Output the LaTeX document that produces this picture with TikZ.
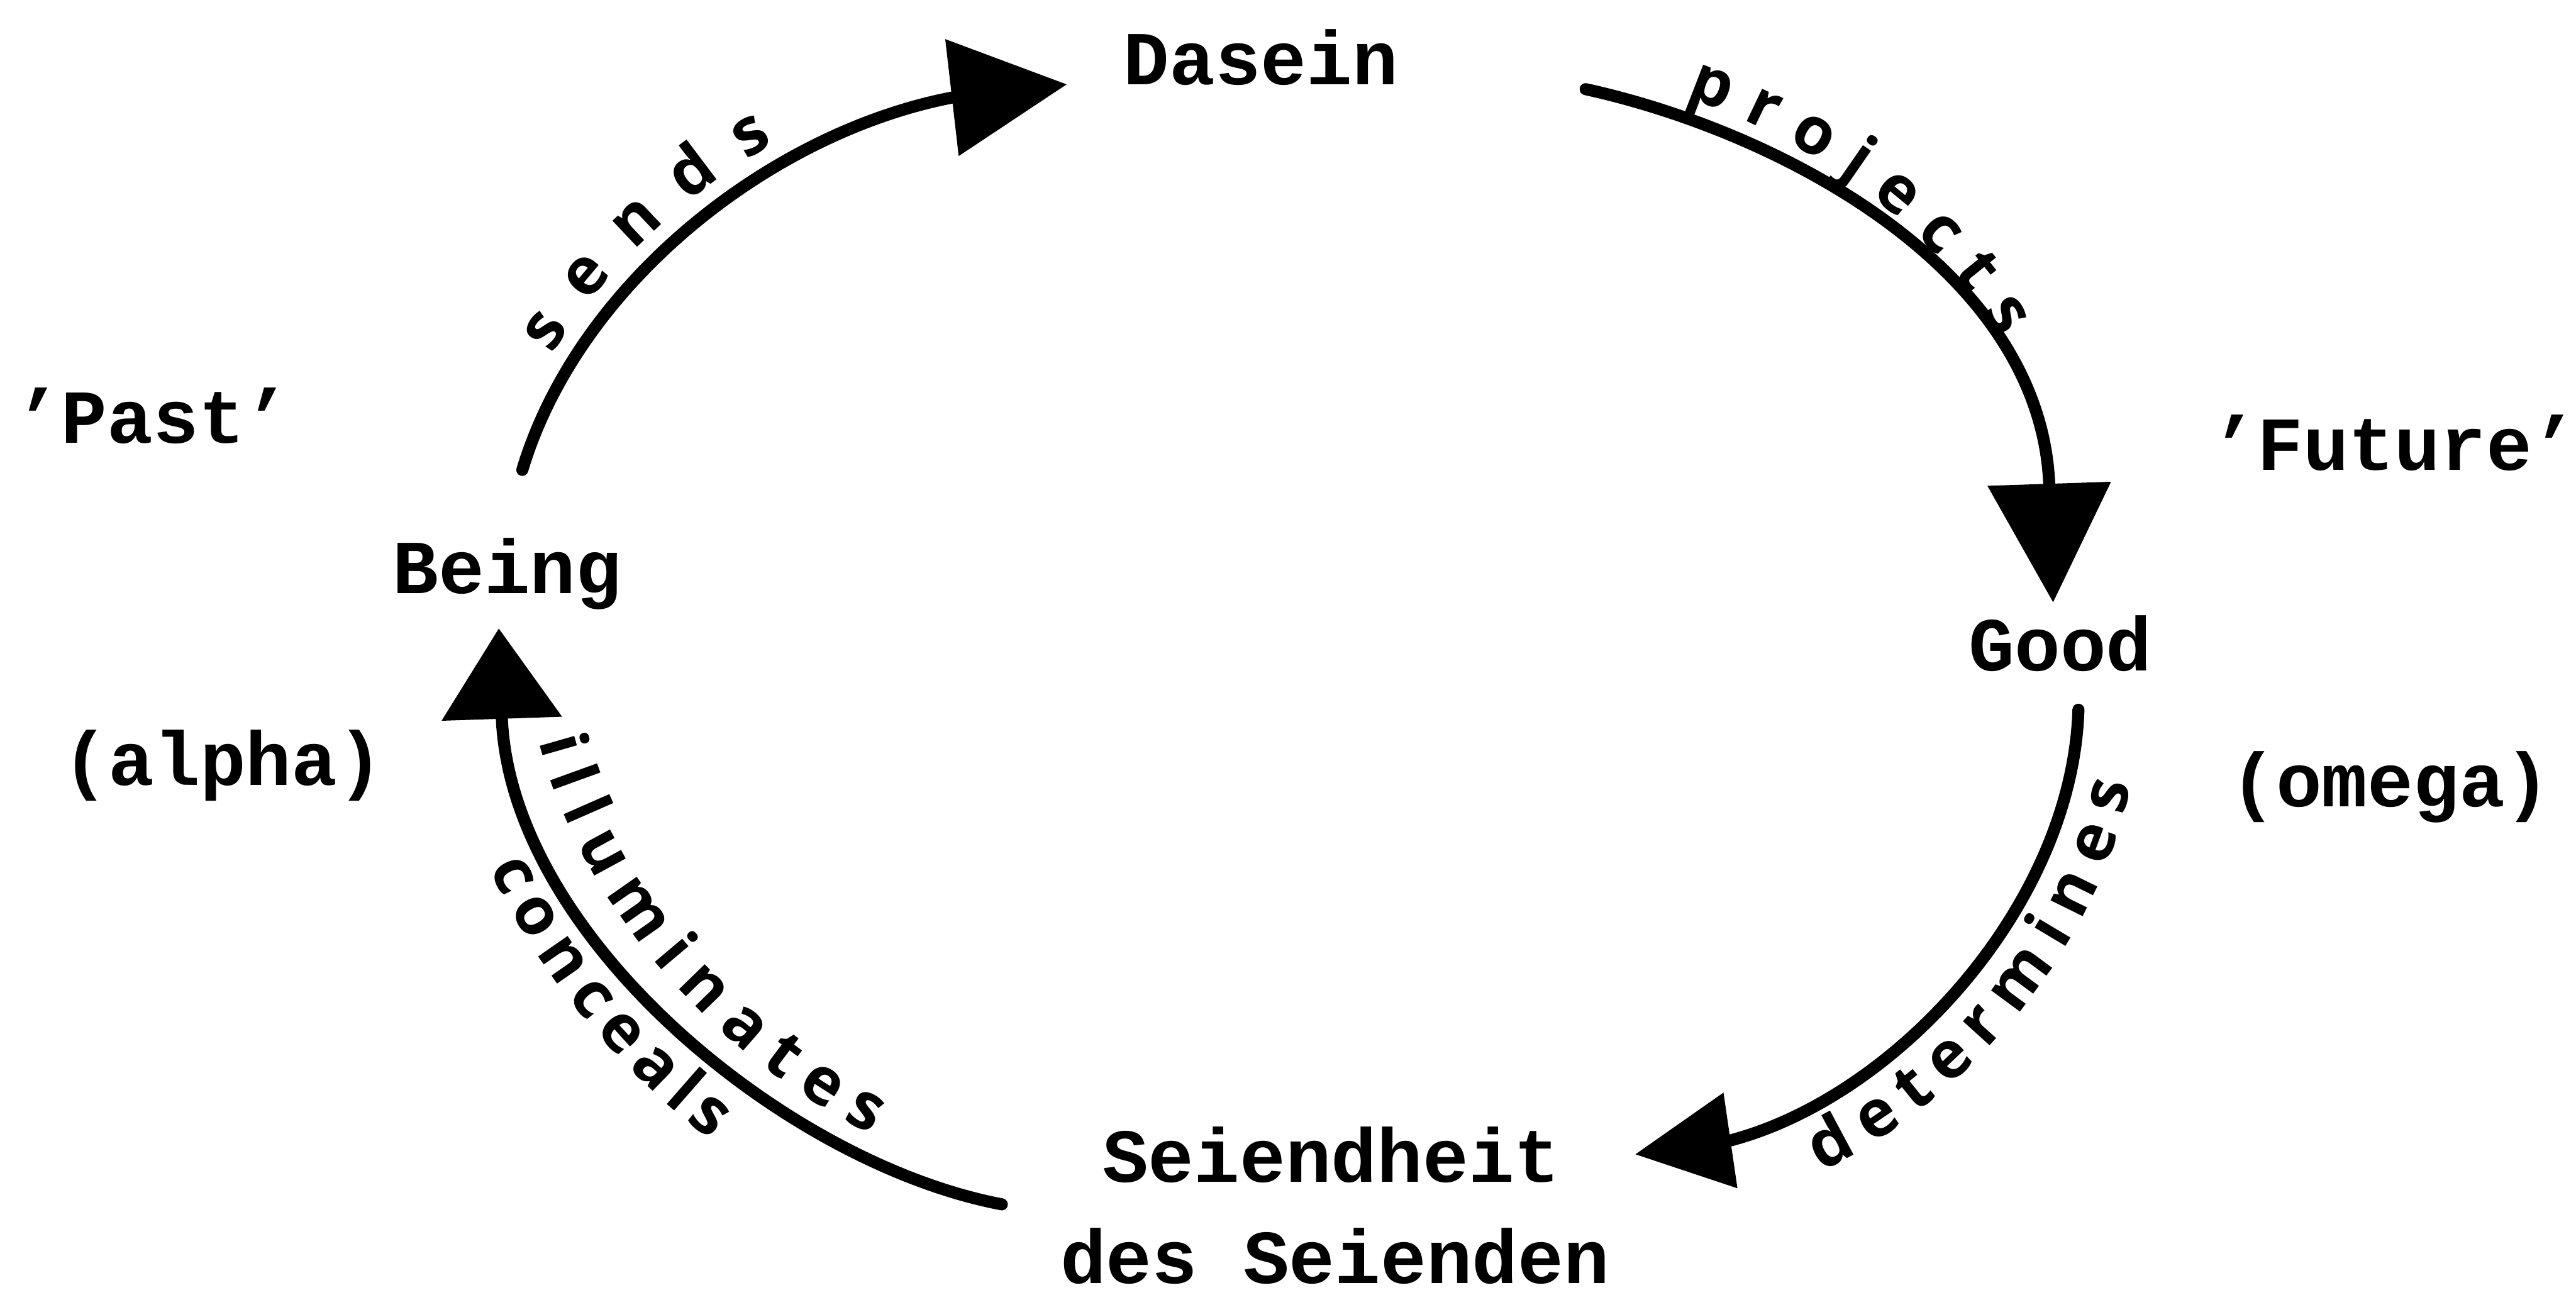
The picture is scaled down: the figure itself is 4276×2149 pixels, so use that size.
\documentclass[tikz,border=0pt]{standalone}
\usepackage{fontspec}
\usetikzlibrary{arrows.meta,decorations.text}
\newfontfamily\typefont{Liberation Mono}
\newfontfamily\handfont{Open Sans}
\begin{document}
\begin{tikzpicture}[x=0.01cm, y=0.01cm,
  term/.style={font=\typefont\bfseries\fontsize{36}{40}\selectfont, inner sep=0pt, anchor=base},
  link/.style={line width=0.2cm, line cap=round},
  handlabel/.style n args={4}{decorate, decoration={text along path,
      text={|\handfont\bfseries\fontsize{31}{31}\selectfont|#1},
      text align={left indent=#2, right indent=#3, fit to path},
      raise=#4}}]
  % page
  \fill[white] (0,0) rectangle (4276,-2149);
  \useasboundingbox (0,0) rectangle (4276,-2149);

  % terms of the cycle
  \node[term] (dasein) at (2093,-140) {Dasein};
  \node[term] (being)  at (842,-985)  {Being};
  \node[term] (good)   at (3420,-1113) {Good};
  \node[term] (seiendA) at (2210,-1962) {Seiendheit};
  \node[term] (seiendB) at (2216,-2130) {des Seienden};

  % side notes
  \node[term] (past)   at (254,-735)   {’Past’};
  \node[term] (alpha)  at (370,-1303)  {(alpha)};
  \node[term] (future) at (3975,-780)  {’Future’};
  \node[term] (omega)  at (3968,-1339) {(omega)};

  % ends of the arcs (where each tip sits, and where its base meets the curve)
  \coordinate (beingOut)  at (867,-780);
  \coordinate (daseinBase) at (1580,-162);
  \coordinate (daseinIn)  at (1771,-140);
  \coordinate (daseinOut) at (2632,-148);
  \coordinate (goodIn)    at (3408,-1000);
  \coordinate (goodOut)   at (3450,-1178);
  \coordinate (seiendBase) at (2872,-1893);
  \coordinate (seiendIn)  at (2714,-1916);
  \coordinate (seiendOut) at (1663,-1999);
  \coordinate (beingIn)   at (828,-1043);

  % the four arcs
  \draw[link, -{Triangle[width=1.9cm, length=1.92cm]}]
    (beingOut) .. controls (960,-470) and (1280,-220) .. (daseinBase) -- (daseinIn);
  \draw[link, -{Triangle[width=2.0cm, length=1.97cm]}]
    (daseinOut) .. controls (2960,-220) and (3390,-450) .. (goodIn);
  \draw[link, -{Triangle[width=1.55cm, length=1.6cm]}]
    (goodOut) .. controls (3440,-1500) and (3150,-1820) .. (seiendBase) -- (seiendIn);
  \draw[link, -{Triangle[width=1.95cm, length=1.5cm]}]
    (seiendOut) .. controls (1300,-1930) and (845,-1550) .. (beingIn);

  % handwritten labels along the arcs
  \path[handlabel={sends}{1.9cm}{4.9cm}{0.34cm}]
    (beingOut) .. controls (960,-470) and (1280,-220) .. (daseinBase) -- (daseinIn);
  \path[handlabel={projects}{1.6cm}{4.4cm}{0.34cm}]
    (daseinOut) .. controls (2960,-220) and (3390,-450) .. (goodIn);
  \path[handlabel={determines}{2.7cm}{1.0cm}{-1.02cm}]
    (seiendIn) -- (seiendBase) .. controls (3150,-1820) and (3440,-1500) .. (goodOut);
  \path[handlabel={illuminates}{2.0cm}{2.5cm}{0.38cm}]
    (beingIn) .. controls (845,-1550) and (1300,-1930) .. (seiendOut);
  \path[handlabel={conceals}{3.6cm}{4.6cm}{-1.12cm}]
    (beingIn) .. controls (845,-1550) and (1300,-1930) .. (seiendOut);
\end{tikzpicture}
\end{document}
